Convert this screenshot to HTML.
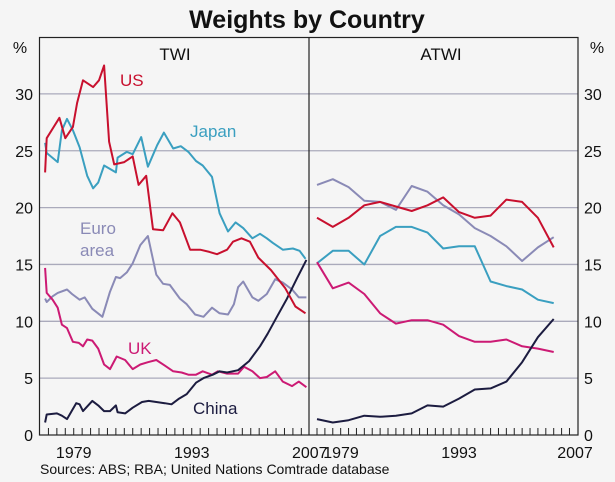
<!DOCTYPE html>
<html><head><meta charset="utf-8"><style>
html,body{margin:0;padding:0;background:#f5f5f5;}
svg{display:block;font-family:"Liberation Sans",Arial,sans-serif;}
</style></head><body>
<svg id="chart" width="615" height="482" viewBox="0 0 615 482">
<rect x="0" y="0" width="615" height="482" fill="#f5f5f5"/>
<text x="307" y="28" text-anchor="middle" font-size="25" font-weight="bold" fill="#111">Weights by Country</text>
<g id="grid"></g>
<g id="series"></g>
<rect x="39.5" y="37.5" width="538.5" height="397.5" fill="none" stroke="#222" stroke-width="1.2"/>
<line x1="309" y1="37.5" x2="309" y2="435" stroke="#222" stroke-width="1.2"/>
<g id="ticks"></g>
<g id="labels"></g>
<text x="175" y="60" text-anchor="middle" font-size="17" fill="#111">TWI</text>
<text x="441" y="60" text-anchor="middle" font-size="17" fill="#111">ATWI</text>
<text x="20" y="53" text-anchor="middle" font-size="16" fill="#111">%</text>
<text x="597" y="53" text-anchor="middle" font-size="16" fill="#111">%</text>
<text x="120" y="86" font-size="17" fill="#c8102e">US</text>
<text x="190" y="137" font-size="17" fill="#3a9fc0">Japan</text>
<text x="80" y="234" font-size="17" fill="#8a8ab6"><tspan x="80">Euro</tspan><tspan x="80" dy="22">area</tspan></text>
<text x="128" y="354" font-size="17" fill="#cc1a74">UK</text>
<text x="193" y="414" font-size="17" fill="#1c1c40">China</text>
<text x="40" y="474" font-size="14" fill="#111">Sources: ABS; RBA; United Nations Comtrade database</text>
</svg>
<script>
const yTicks=[0,5,10,15,20,25,30];
const xTickLabels=[1979,1993,2007];
const leftUS=[[1975.6,23.1],[1975.8,26.1],[1977.3,27.9],[1978,26.1],[1978.9,27.1],[1979.4,29.2],[1980.1,31.2],[1981.3,30.6],[1982,31.2],[1982.6,32.5],[1983.2,25.8],[1983.8,23.8],[1985,24.0],[1986,24.5],[1986.7,22],[1987.6,22.8],[1988.4,18.1],[1989.6,18.0],[1990.7,19.5],[1991.6,18.7],[1992.8,16.3],[1994,16.3],[1995.1,16.1],[1996,15.9],[1997.2,16.3],[1997.9,17.0],[1998.9,17.3],[1999.9,17.0],[2000.9,15.6],[2002.4,14.5],[2004.1,12.9],[2005.3,11.3],[2006.5,10.7]];
const leftJapan=[[1975.6,25.7],[1975.8,24.8],[1977.1,24.0],[1977.6,26.8],[1978.2,27.8],[1978.9,26.8],[1979.7,25.3],[1980.6,22.8],[1981.3,21.7],[1981.9,22.2],[1982.6,23.7],[1984,23.1],[1984.2,24.4],[1985.3,24.9],[1986,24.7],[1987,26.2],[1987.8,23.6],[1988.9,25.5],[1989.7,26.6],[1990.8,25.2],[1991.7,25.4],[1992.6,24.9],[1993.5,24.1],[1994.3,23.7],[1995.4,22.7],[1996.3,19.5],[1997.3,17.9],[1998.2,18.7],[1999.1,18.2],[2000.2,17.3],[2001.1,17.7],[2001.9,17.3],[2002.6,16.9],[2003.8,16.3],[2005,16.4],[2005.8,16.2],[2006.5,15.5]];
const leftEuro=[[1975.6,12.0],[1975.8,11.7],[1976.5,12.2],[1977.1,12.5],[1978.2,12.8],[1978.8,12.4],[1979.7,11.9],[1980.3,12.1],[1981.2,11.1],[1982.4,10.4],[1983.3,12.6],[1984,13.9],[1984.5,13.8],[1985.3,14.3],[1986,15.1],[1986.9,16.7],[1987.8,17.5],[1988.8,14.1],[1989.6,13.3],[1990.4,13.2],[1991.6,12.0],[1992.4,11.5],[1993.4,10.6],[1994.4,10.4],[1995.4,11.2],[1996.3,10.7],[1997.3,10.6],[1998,11.5],[1998.5,13.0],[1999.1,13.5],[2000.2,12.1],[2000.9,11.8],[2001.9,12.4],[2002.9,13.7],[2003.8,13.4],[2004.9,12.8],[2005.7,12.1],[2006.6,12.1]];
const leftUK=[[1975.6,14.7],[1975.8,12.5],[1976.5,11.9],[1977.1,11.2],[1977.6,9.7],[1978.2,9.4],[1978.9,8.2],[1979.6,8.1],[1980.1,7.8],[1980.6,8.4],[1981.2,8.3],[1981.9,7.6],[1982.6,6.2],[1983.3,5.8],[1984.1,6.9],[1985.1,6.6],[1986,5.8],[1986.9,6.2],[1987.8,6.4],[1988.8,6.6],[1989.8,6.1],[1990.8,5.6],[1991.8,5.5],[1992.6,5.3],[1993.5,5.3],[1994.3,5.6],[1995.4,5.3],[1996.1,5.6],[1997.2,5.4],[1998.5,5.4],[1999.2,6.0],[2000.2,5.6],[2001.1,5.0],[2001.9,5.1],[2002.9,5.6],[2003.8,4.7],[2004.9,4.3],[2005.7,4.7],[2006.6,4.2]];
const leftChina=[[1975.6,1.1],[1975.8,1.8],[1977,1.9],[1977.6,1.7],[1978.2,1.4],[1979.3,2.8],[1979.7,2.7],[1980.1,2.1],[1981.2,3.0],[1981.9,2.6],[1982.6,2.1],[1983.3,2.1],[1984,2.6],[1984.2,2.0],[1985.1,1.9],[1986,2.4],[1987.1,2.9],[1987.9,3.0],[1988.8,2.9],[1989.8,2.8],[1990.6,2.7],[1991.5,3.2],[1992.4,3.6],[1993.5,4.6],[1994.4,5.0],[1995.5,5.3],[1996.3,5.6],[1997.2,5.5],[1998.5,5.7],[1999.8,6.5],[2001.1,7.8],[2002,8.9],[2003.1,10.4],[2004.3,12.0],[2005.5,13.8],[2006.6,15.4]];
const rightYears=[1976,1978,1980,1982,1984,1986,1988,1990,1992,1994,1996,1998,2000,2002,2004,2006];
const rightUS=[19.1,18.3,19.1,20.2,20.5,20.1,19.7,20.2,20.9,19.6,19.1,19.3,20.7,20.5,19.1,16.5];
const rightJapan=[15.1,16.2,16.2,15.0,17.5,18.3,18.3,17.8,16.4,16.6,16.6,13.5,13.1,12.8,11.9,11.6];
const rightEuro=[22.0,22.5,21.8,20.6,20.5,19.8,21.9,21.4,20.2,19.4,18.2,17.5,16.6,15.3,16.5,17.4];
const rightUK=[15.2,12.9,13.4,12.4,10.7,9.8,10.1,10.1,9.7,8.7,8.2,8.2,8.4,7.8,7.6,7.3];
const rightChina=[1.4,1.1,1.3,1.7,1.6,1.7,1.9,2.6,2.5,3.2,4.0,4.1,4.7,6.4,8.6,10.2];

const NS='http://www.w3.org/2000/svg';
const yS=v=>435-v*11.37;
const xL=y=>40+(y-1975)*8.43;
const xR=y=>317+(y-1976)*7.89;
const C={us:'#c8102e',japan:'#3a9fc0',euro:'#8a8ab6',uk:'#cc1a74',china:'#1c1c40'};
function mk(tag,attrs,parent){const e=document.createElementNS(NS,tag);for(const k in attrs)e.setAttribute(k,attrs[k]);parent.appendChild(e);return e;}
const grid=document.getElementById('grid'),ser=document.getElementById('series'),tk=document.getElementById('ticks'),lb=document.getElementById('labels');
yTicks.forEach(v=>{
  if(v>0){const g=mk('line',{x1:40,x2:578,y1:yS(v),y2:yS(v),stroke:'#aab',"stroke-width":1.3},grid);
  
  }
  const a=mk('text',{x:33,y:yS(v)+6,"text-anchor":"end","font-size":16,fill:'#111'},lb);a.textContent=v;
  
  
  const b=mk('text',{x:584,y:yS(v)+6,"font-size":16,fill:'#111'},lb);b.textContent=v;
  
  
});
for(let y=1976;y<=2006;y++){
  const t=mk('line',{x1:xL(y),x2:xL(y),y1:435,y2:428,stroke:'#222'},tk);
  
  
}
for(let y=1976;y<=2008;y++){
  const t=mk('line',{x1:xR(y),x2:xR(y),y1:435,y2:428,stroke:'#222'},tk);
  
  
}
xTickLabels.forEach(y=>{
  const a=mk('text',{x:xL(y),y:458,"text-anchor":"middle","font-size":16,fill:'#111'},lb);a.textContent=y;
  
  
});
xTickLabels.forEach(y=>{
  const x=y===2007?575:(y===1979?341:459);
  const a=mk('text',{x:x,y:458,"text-anchor":"middle","font-size":16,fill:'#111'},lb);a.textContent=y;
  
  
});
function line(pts,col,name){
  const p=mk('polyline',{points:pts.map(q=>q[0].toFixed(1)+','+q[1].toFixed(1)).join(' '),fill:'none',stroke:col,"stroke-width":2,"stroke-linejoin":"round"},ser);
  
  
}
line(leftEuro.map(d=>[xL(d[0]),yS(d[1])]),C.euro,'twi-euro-line');
line(leftUK.map(d=>[xL(d[0]),yS(d[1])]),C.uk,'twi-uk-line');
line(leftChina.map(d=>[xL(d[0]),yS(d[1])]),C.china,'twi-china-line');
line(leftJapan.map(d=>[xL(d[0]),yS(d[1])]),C.japan,'twi-japan-line');
line(leftUS.map(d=>[xL(d[0]),yS(d[1])]),C.us,'twi-us-line');
line(rightYears.map((y,i)=>[xR(y),yS(rightEuro[i])]),C.euro,'atwi-euro-line');
line(rightYears.map((y,i)=>[xR(y),yS(rightJapan[i])]),C.japan,'atwi-japan-line');
line(rightYears.map((y,i)=>[xR(y),yS(rightUK[i])]),C.uk,'atwi-uk-line');
line(rightYears.map((y,i)=>[xR(y),yS(rightChina[i])]),C.china,'atwi-china-line');
line(rightYears.map((y,i)=>[xR(y),yS(rightUS[i])]),C.us,'atwi-us-line');
</script>
</body></html>
